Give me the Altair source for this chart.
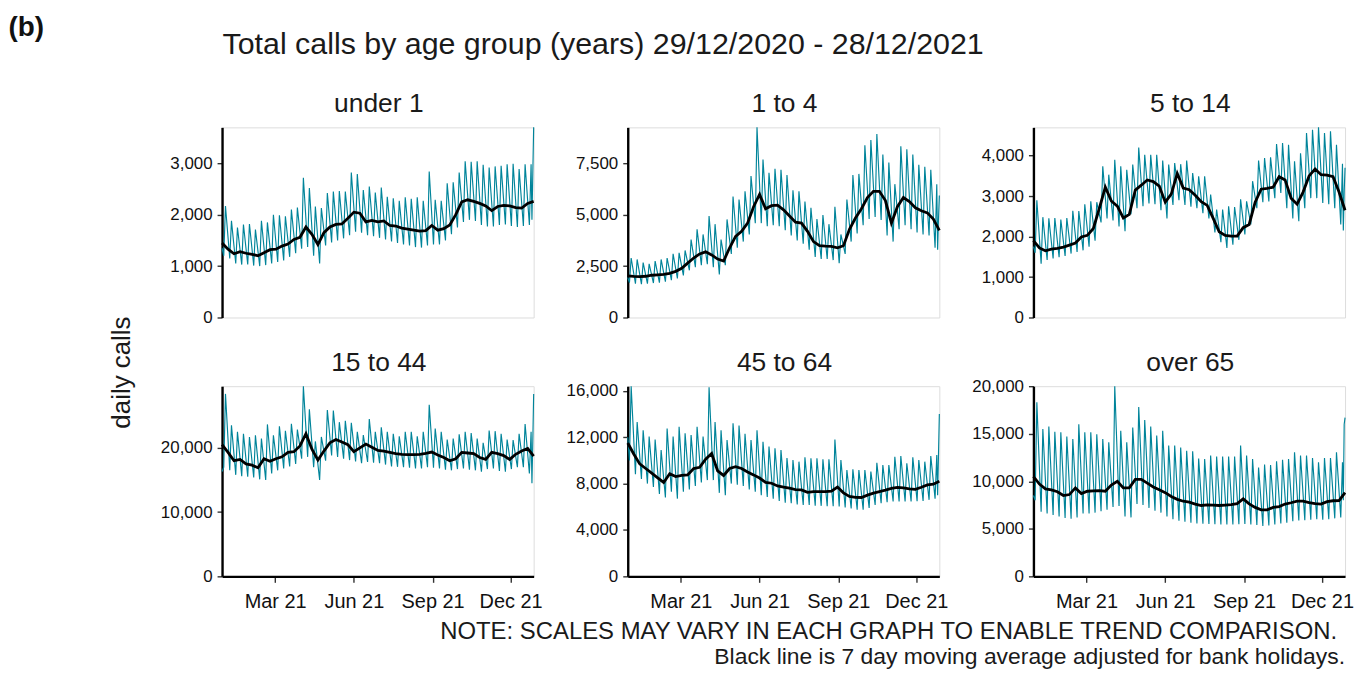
import altair as alt
import pandas as pd

FONT = "Liberation Sans"
TEAL = "#00849A"
START = pd.Timestamp("2020-12-29")
W, H = 313, 191

panel_titles = ["under 1", "1 to 4", "5 to 14", "15 to 44", "45 to 64", "over 65"]

# 7-day moving average, read every 7 days starting 29/12/2020
u1_ma = [1450,1330,1240,1280,1250,1230,1200,1260,1320,1330,1390,1430,1520,1560,1760,1620,1420,1650,1760,1810,
         1820,1930,2050,2030,1860,1890,1860,1880,1790,1780,1740,1720,1700,1680,1690,1790,1700,1730,1800,2000,
         2250,2290,2260,2220,2170,2080,2160,2180,2170,2140,2130,2220,2260]
# weekly weekend peaks (Saturdays from 02/01/2021)
u1_peak = [2170,1880,1750,1810,1820,1710,1880,1850,2000,1990,1970,2100,2140,2720,2520,2160,2130,2420,2450,2460,
           2450,2820,2790,2480,2550,2430,2530,2350,2320,2270,2340,2310,2340,2270,2840,2290,2270,2610,2630,2820,
           3040,3030,3040,2970,2920,2940,2950,2980,2990,2890,2980,2980]
# weekly mid-week troughs (Thursdays from 31/12/2020)
u1_low = [1200,1150,1050,1030,1030,1010,1000,1020,1050,1080,1110,1180,1250,1340,1370,1200,1050,1400,1460,1500,
          1540,1600,1670,1650,1600,1580,1550,1520,1480,1450,1420,1400,1370,1360,1400,1420,1420,1500,1620,1750,
          1860,1900,1880,1800,1770,1770,1800,1810,1780,1760,1780,1800]
# first day (29/12/2020) and last three days (26-28/12/2021)
u1_ends = [1350, 1900, 2800, 3700]

c14_ma = [2025,2000,1990,2010,2060,2080,2100,2150,2250,2400,2650,2900,3100,3200,3050,2850,2750,3400,3950,4200,
          4600,5400,6000,5300,5450,5480,5250,4950,4650,4600,4200,3700,3500,3480,3470,3400,3500,4300,4850,5300,
          5850,6150,6150,5700,4600,5400,5850,5650,5350,5200,5100,4800,4250]
c14_peak = [2900,2830,2680,2620,2750,2830,2900,3100,3150,3270,3800,4300,4050,4950,4550,3800,4780,5900,5750,6150,
            6900,9270,7700,7050,7250,7200,6950,6200,6150,5650,5350,4800,5000,4550,5400,4050,5750,6950,7000,8400,
            8650,8950,7950,7550,6500,8350,8200,7950,7450,7350,7200,6500]
c14_low = [1700,1650,1620,1650,1680,1700,1750,1820,1900,2050,2300,2450,2550,2600,2450,2100,2550,3100,3400,3700,
           4050,4600,4600,4450,4500,4450,4250,4000,3750,3600,3300,2950,2850,2850,2800,2650,3100,3700,4100,4500,
           4800,4900,4750,4000,3700,4300,4500,4300,4150,4050,4000,3400]
c14_ends = [1950, 3300, 4800, 5950]

c514_ma = [1900,1720,1650,1690,1710,1740,1790,1840,1990,2030,2200,2700,3220,2880,2750,2460,2550,3150,3270,3400,
           3360,3250,2850,3050,3560,3200,3160,3020,2860,2770,2450,2120,2030,2010,2010,2220,2300,2850,3170,3190,
           3220,3480,3400,2950,2800,3100,3500,3670,3530,3520,3480,3100,2650]
c514_peak = [2900,2480,2450,2460,2420,2460,2640,2630,2800,2870,2850,3740,3530,3900,3740,3650,3780,4200,4020,4020,
             4020,3880,3780,3820,3790,3880,3570,3490,3490,3040,2670,2670,2750,2730,2920,2870,3370,3880,3940,3960,
             4290,4310,4270,3860,4060,4560,4640,4700,4560,4600,4270,3800]
c514_low = [1600,1330,1420,1460,1490,1520,1580,1620,1660,1750,1900,2350,2450,2400,2250,2130,2550,2700,2750,2820,
            2800,2650,2450,2780,2900,2780,2740,2700,2580,2450,2100,1860,1720,1800,1920,2050,2300,2700,2850,2870,
            2950,3080,2700,2450,2380,2700,2950,2950,2830,2800,2700,2300]
c514_ends = [1750, 2150, 3100, 3700]

c1544_ma = [20500,19300,18000,18200,17500,17300,16900,18300,17900,18300,18600,19300,19400,20300,22200,19800,18100,19500,20800,21300,
            20900,20500,19400,20000,20600,20100,19600,19500,19300,19100,19000,18950,18950,19000,19150,19350,18900,18500,18000,18300,
            19300,19200,19100,18500,18200,19300,19100,18800,18200,19000,19500,19900,18700]
c1544_peak = [28400,23500,22500,22200,21700,21950,21450,23650,21950,23350,22650,23750,22850,29600,26000,21000,21700,25900,25800,24000,
              24200,23900,22500,22000,24500,22500,23200,22500,22200,21800,22500,22500,21800,22500,26700,23000,22500,21300,21450,22100,
              22500,22300,21450,20800,22700,22600,22200,21300,21200,22200,23700,22500]
c1544_low = [17000,16500,15800,15600,15500,15400,15100,15000,16000,16500,16800,17100,17500,18300,18600,17000,15000,18000,18800,18600,
             18300,18100,17900,17600,17800,17700,17600,17400,17100,17050,17000,16900,16800,16800,17000,16900,16800,16600,16500,16700,
             16800,16600,16500,16300,16700,16800,16400,16300,16700,17000,17000,16000]
c1544_ends = [16300, 14500, 21000, 28400]

c4564_ma = [11500,10550,9700,9300,8900,8500,8100,8850,8600,8700,8750,9300,9400,10100,10600,9100,8700,9300,9450,9300,
            9000,8750,8480,8100,8030,7800,7700,7600,7480,7450,7250,7300,7310,7310,7350,7700,7200,6900,6810,6800,
            7000,7170,7310,7430,7580,7680,7620,7550,7500,7680,7880,7950,8200]
c4564_peak = [16400,13300,12600,12050,11800,10900,12750,12050,12900,12330,12180,12900,12050,16300,13300,12600,11750,13200,13000,12300,
              11750,12600,11600,11200,11050,10900,10200,10030,9890,10260,10180,10180,10090,10090,11800,10030,9170,9230,9170,9170,
              9030,9800,9600,9600,10320,10380,9750,10260,10030,9890,10380,10460]
c4564_low = [10000,8800,8400,8000,7700,7100,6800,7300,6700,7300,7500,7800,8100,8300,8300,7200,7000,8000,7900,7800,
             7500,7300,7000,6850,6700,6500,6350,6300,6200,6150,6150,6100,6080,6050,6050,6020,5950,5850,5750,5750,
             5900,6150,6300,6400,6450,6450,6450,6450,6480,6500,6600,6700]
c4564_ends = [12000, 7000, 10500, 14000]

c65_ma = [10500,9700,9200,9100,8900,8500,8600,9300,8700,8950,9000,9020,8950,9600,10000,9300,9300,10200,10200,9800,
          9400,9100,8800,8400,8100,7900,7800,7600,7450,7520,7500,7450,7500,7550,7650,8150,7620,7250,6990,7000,
          7250,7340,7600,7740,7900,7900,7750,7650,7600,7850,7950,7970,8800]
c65_peak = [18300,15500,15750,15200,15150,14700,14450,16000,15150,15150,14950,14450,14100,20000,15300,14100,15650,17800,16450,15750,
            14800,15300,13750,13750,13550,13200,13150,12400,12350,12700,12600,12600,12600,12600,13750,12700,12350,11450,11750,11700,
            12100,12250,12350,13050,12700,12700,12450,12000,12450,12450,13050,12000]
c65_low = [8000,6800,6600,6450,6300,6150,6050,6200,6600,6600,6700,6850,7000,7300,7400,6300,6200,7600,7500,7200,
           6900,6700,6300,6000,5850,5750,5650,5550,5530,5500,5480,5460,5450,5460,5480,5500,5460,5400,5300,5350,
           5450,5550,5650,5800,5880,5900,5950,6000,5950,6000,6100,6200]
c65_ends = [8500, 8000, 16000, 16700]

y_ticks = [
    [0, 1000, 2000, 3000],
    [0, 2500, 5000, 7500],
    [0, 1000, 2000, 3000, 4000],
    [0, 10000, 20000],
    [0, 4000, 8000, 12000, 16000],
    [0, 5000, 10000, 15000, 20000],
]
x_tick_months = [3, 6, 9, 12]

series = [
    (u1_ma, u1_peak, u1_low, u1_ends),
    (c14_ma, c14_peak, c14_low, c14_ends),
    (c514_ma, c514_peak, c514_low, c514_ends),
    (c1544_ma, c1544_peak, c1544_low, c1544_ends),
    (c4564_ma, c4564_peak, c4564_low, c4564_ends),
    (c65_ma, c65_peak, c65_low, c65_ends),
]


def day_str(d):
    return (START + pd.Timedelta(days=d)).strftime("%Y-%m-%dT00:00:00")


def text_layer(txt, x, y, size, align="left", baseline="middle", bold=False, angle=0, color="#111111"):
    kw = dict(fontSize=size, font=FONT, align=align, baseline=baseline, color=color)
    if bold:
        kw["fontWeight"] = "bold"
    if angle:
        kw["angle"] = angle
    return alt.Chart(pd.DataFrame({"t": [txt]})).mark_text(**kw).encode(
        x=alt.value(x), y=alt.value(y), text="t:N")


def make_panel(i):
    ma, peak, low, ends = series[i]
    days, vals = [0], [ends[0]]
    for k in range(len(peak)):
        days += [2 + 7 * k, 4 + 7 * k]
        vals += [low[k], peak[k]]
    days += [362, 363, 364]
    vals += ends[1:]
    teal_df = pd.DataFrame({"date": [day_str(d) for d in days], "calls": vals})
    ma_df = pd.DataFrame({"date": [day_str(7 * k) for k in range(len(ma))], "calls": ma})
    ymax = max(vals)
    bottom = i >= 3
    xscale = alt.Scale(domain=[alt.DateTime(year=2020, month=12, date=29),
                               alt.DateTime(year=2021, month=12, date=28)], nice=False)
    if bottom:
        xaxis = alt.Axis(values=[alt.DateTime(year=2021, month=m, date=1) for m in x_tick_months],
                         format="%b %y", title=None, grid=False, domainColor="black", domainWidth=2.4,
                         tickColor="#333333", tickSize=6, tickWidth=1.4, labelFont=FONT,
                         labelFontSize=20, labelColor="#111111", labelPadding=9)
    else:
        xaxis = None
    yaxis = alt.Axis(values=y_ticks[i], format=",d", title=None, grid=False, domainColor="black",
                     domainWidth=2.4, tickColor="#333333", tickSize=5, tickWidth=1.4, labelFont=FONT,
                     labelFontSize=17, labelColor="#111111", labelPadding=5)
    yscale = alt.Scale(domain=[0, ymax], nice=False, zero=True)
    teal = alt.Chart(teal_df).mark_line(color=TEAL, strokeWidth=1.15).encode(
        x=alt.X("date:T", scale=xscale, axis=xaxis),
        y=alt.Y("calls:Q", scale=yscale, axis=yaxis))
    black = alt.Chart(ma_df).mark_line(color="black", strokeWidth=2.8).encode(
        x="date:T", y="calls:Q")
    layers = [teal, black, text_layer(panel_titles[i], W / 2 + 1, -15, 26.5, align="center",
                                      baseline="alphabetic", color="#1a1a1a")]
    if i == 0:
        layers.append(text_layer("(b)", -214.5, -113.3, 28, baseline="top", bold=True))
        layers.append(text_layer("Total calls by age group (years) 29/12/2020 - 28/12/2021",
                                 0.5, -82.7, 30.5, color="#1a1a1a"))
    if i == 3:
        layers.append(text_layer("daily calls", -100.5, -13.7, 26, align="center", angle=270,
                                 color="#1a1a1a"))
    if i == 5:
        layers.append(text_layer("NOTE: SCALES MAY VARY IN EACH GRAPH TO ENABLE TREND COMPARISON.",
                                 305, 246.5, 24, align="right", color="#1a1a1a"))
        layers.append(text_layer("Black line is 7 day moving average adjusted for bank holidays.",
                                 313, 271.8, 23, align="right", color="#1a1a1a"))
    return alt.layer(*layers).properties(width=W, height=H)


chart = alt.concat(*[make_panel(i) for i in range(6)], columns=3,
                   spacing={"row": 69, "column": 94.5}, bounds="flush").properties(
    padding={"left": 0, "top": 4.4, "right": 0, "bottom": 0}
).configure_view(stroke=None).configure(background="white")

chart.save("out.html", embed_options={"renderer": "svg", "actions": False})
